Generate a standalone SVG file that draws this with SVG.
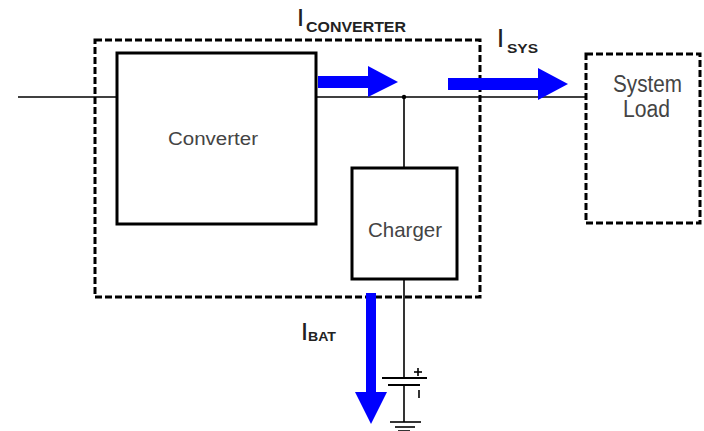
<svg xmlns="http://www.w3.org/2000/svg" width="704" height="431" viewBox="0 0 704 431">
<style>
.box{fill:#fff;stroke:#000;stroke-width:3}
.dash{fill:none;stroke:#000;stroke-width:3;stroke-dasharray:7 3}
.wire{fill:none;stroke:#000;stroke-width:1.6}
.blue{fill:#0000ff;stroke:none}
.lbl{font-family:"Liberation Sans",Arial,sans-serif;fill:#444}
.cur{font-family:"Liberation Sans",Arial,sans-serif;font-weight:bold;fill:#222}
</style>
<rect width="704" height="431" fill="#fff"/>
<g id="connectors">
<line class="wire" x1="18" y1="97" x2="586" y2="97"/>
<line class="wire" x1="404" y1="97" x2="404" y2="168"/>
<line class="wire" x1="404" y1="279" x2="404" y2="378"/>
<line class="wire" x1="404" y1="385" x2="404" y2="422"/>
<circle cx="404" cy="97" r="2.2" fill="#000"/>
</g>
<g id="converter-boundary">
<rect class="dash" x="95" y="40" width="385" height="257"/>
</g>
<g id="converter">
<rect class="box" x="117" y="53" width="199" height="171"/>
<text class="lbl" x="168" y="145" font-size="18" textLength="90" lengthAdjust="spacingAndGlyphs">Converter</text>
</g>
<g id="charger">
<rect class="box" x="352" y="168" width="105" height="111"/>
<text class="lbl" x="368" y="237" font-size="21" textLength="74" lengthAdjust="spacingAndGlyphs">Charger</text>
</g>
<g id="system-load">
<rect class="dash" x="586" y="54" width="114" height="169"/>
<text class="lbl" x="613" y="92" font-size="23" textLength="69" lengthAdjust="spacingAndGlyphs">System</text>
<text class="lbl" x="623" y="117" font-size="23" textLength="47" lengthAdjust="spacingAndGlyphs">Load</text>
</g>
<g id="battery">
<line x1="382" y1="378" x2="427" y2="378" stroke="#000" stroke-width="2"/>
<line x1="388" y1="385" x2="420" y2="385" stroke="#000" stroke-width="2"/>
<line x1="414" y1="372" x2="422" y2="372" stroke="#000" stroke-width="1.6"/>
<line x1="418" y1="368" x2="418" y2="376" stroke="#000" stroke-width="1.6"/>
<line x1="419" y1="390" x2="419" y2="398" stroke="#000" stroke-width="1.6"/>
</g>
<g id="ground">
<line x1="390" y1="422" x2="421" y2="422" stroke="#000" stroke-width="1.6"/>
<line x1="395" y1="427" x2="415" y2="427" stroke="#000" stroke-width="1.6"/>
<line x1="398" y1="431" x2="410" y2="431" stroke="#000" stroke-width="1.6"/>
</g>
<g id="i-converter">
<polygon class="blue" points="318,76 368,76 368,66 398,82 368,97 368,88 318,88"/>
<text class="cur" x="298" y="26" font-size="24" textLength="5" lengthAdjust="spacingAndGlyphs">I</text>
<text class="cur" x="306" y="32" font-size="15" textLength="100" lengthAdjust="spacingAndGlyphs">CONVERTER</text>
</g>
<g id="i-sys">
<polygon class="blue" points="448,78 538,78 538,68 568,84 538,100 538,90 448,90"/>
<text class="cur" x="498" y="47" font-size="25" textLength="5" lengthAdjust="spacingAndGlyphs">I</text>
<text class="cur" x="507" y="53" font-size="12" textLength="31" lengthAdjust="spacingAndGlyphs">SYS</text>
</g>
<g id="i-bat">
<polygon class="blue" points="366,293 376,293 376,392 387,392 371,424 355,392 366,392"/>
<text class="cur" x="302" y="340" font-size="24" textLength="5" lengthAdjust="spacingAndGlyphs">I</text>
<text class="cur" x="308" y="341" font-size="12" textLength="28" lengthAdjust="spacingAndGlyphs">BAT</text>
</g>
</svg>
